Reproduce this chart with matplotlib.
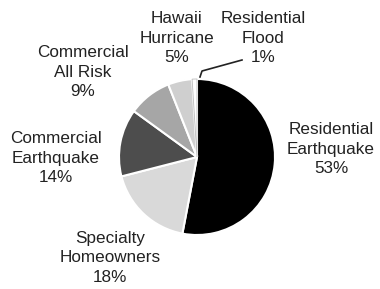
import matplotlib
matplotlib.use("Agg")
import matplotlib.pyplot as plt

categories = ["Residential\nEarthquake", "Specialty\nHomeowners", "Commercial\nEarthquake",
              "Commercial\nAll Risk", "Hawaii\nHurricane", "Residential\nFlood"]
values = [53, 18, 14, 9, 5, 1]
colors = ["#000000", "#d9d9d9", "#4d4d4d", "#a6a6a6", "#cfcfcf", "#ffffff"]

# label centre positions in pixels (x, y from top)
label_px = [(331, 149), (110, 258), (56, 158), (83, 72), (177, 38), (263, 38)]

W, H = 380, 289
cx, cy, R = 197, 157, 78

fig = plt.figure(figsize=(W / 100, H / 100), dpi=100)
ax = fig.add_axes([0, 0, 1, 1])

wedges, _ = ax.pie(values, colors=colors, startangle=90, counterclock=False,
                   radius=1.0, center=(0, 0), frame=True,
                   wedgeprops=dict(edgecolor="white", linewidth=1.5))
wedges[-1].set_edgecolor("#bbbbbb")
wedges[-1].set_linewidth(0.6)
ax.set_xlim(-cx / R, (W - cx) / R)
ax.set_ylim(-(H - cy) / R, cy / R)
ax.set_aspect("auto")
ax.axis("off")

for cat, v, (px, py) in zip(categories, values, label_px):
    ax.text((px - cx) / R, (cy - py) / R, f"{cat}\n{v}%", ha="center", va="center",
            fontsize=12.3, family="Liberation Sans", color="#222222", linespacing=1.38)

# leader line for Residential Flood
pts = [(242, 60), (202, 71), (200, 77)]
ax.plot([(p[0] - cx) / R for p in pts], [(cy - p[1]) / R for p in pts],
        color="#222222", lw=1.2)

fig.savefig("out.png", dpi=100)
